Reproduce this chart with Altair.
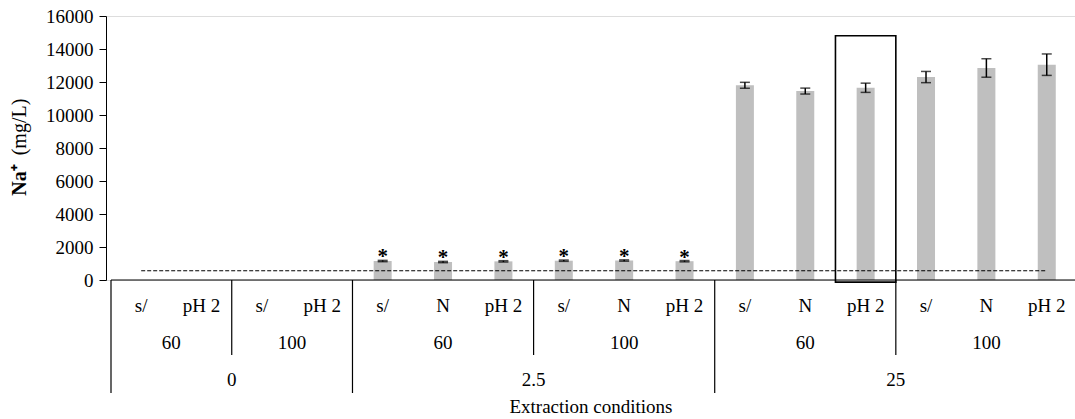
import altair as alt
import pandas as pd

# ---- data ----
conditions = ["s/", "pH 2", "s/", "pH 2", "s/", "N", "pH 2", "s/", "N", "pH 2",
              "s/", "N", "pH 2", "s/", "N", "pH 2"]
temperatures = ["60", "60", "100", "100", "60", "60", "60", "100", "100", "100",
                "60", "60", "60", "100", "100", "100"]
concentrations = ["0"] * 4 + ["2.5"] * 6 + ["25"] * 6
na_values = [0, 0, 0, 0, 1150, 1090, 1130, 1170, 1180, 1140,
             11800, 11450, 11650, 12300, 12850, 13050]
na_errors = [0, 0, 0, 0, 40, 40, 40, 40, 40, 40,
             180, 180, 280, 340, 560, 650]
significant = [False] * 4 + [True] * 6 + [False] * 6
y_ticks = [0, 2000, 4000, 6000, 8000, 10000, 12000, 14000, 16000]
limit_value = 560
highlight_index = 12
box_top = 14800

FONT = "Liberation Serif"
FS = 19

df = pd.DataFrame({
    "cond": conditions,
    "temp": temperatures,
    "conc": concentrations,
    "value": na_values,
    "err": na_errors,
    "star": significant,
})
df["idx"] = range(len(df))
df["pos"] = df["idx"] + 0.5
df["lo"] = df["value"] - df["err"]
df["hi"] = df["value"] + df["err"]
df["g2"] = df["conc"] + "|" + df["temp"]

# group spans
g2 = df.groupby("g2", sort=False).agg(start=("idx", "min"), end=("idx", "max"),
                                      label=("temp", "first")).reset_index()
g2["center"] = (g2["start"] + g2["end"] + 1) / 2
g3 = df.groupby("conc", sort=False).agg(start=("idx", "min"), end=("idx", "max")).reset_index()
g3["center"] = (g3["start"] + g3["end"] + 1) / 2

lvl3_bounds = pd.DataFrame({"x": g3["start"].tolist()})
lvl2_bounds = pd.DataFrame({"x": [s for s in g2["start"] if s not in set(g3["start"])]})

x_scale = alt.Scale(domain=[0, 15.885], nice=False, zero=False)
y_scale = alt.Scale(domain=[0, 16000], nice=False)
y_axis = alt.Axis(values=y_ticks, title=None, grid=False,
                  domainColor="black", tickColor="black", tickSize=7,
                  labelFont=FONT, labelFontSize=FS, labelColor="black",
                  labelPadding=6, format="d", labelOverlap=False)
X = lambda f: alt.X(f, type="quantitative", scale=x_scale, axis=None)
Y = lambda f: alt.Y(f, type="quantitative", scale=y_scale, axis=y_axis)

base = alt.Chart(df)
nonzero = base.transform_filter("datum.value > 0")

bars = nonzero.mark_bar(size=18, color="#BFBFBF").encode(x=X("pos"), y=Y("value"))

err_rule = nonzero.mark_rule(color="black", strokeWidth=1.5).encode(
    x=X("pos"), y=Y("lo"), y2="hi:Q")
cap_lo = nonzero.mark_tick(orient="horizontal", size=10, thickness=1.5, color="black").encode(
    x=X("pos"), y=Y("lo"))
cap_hi = nonzero.mark_tick(orient="horizontal", size=10, thickness=1.5, color="black").encode(
    x=X("pos"), y=Y("hi"))

stars = base.transform_filter("datum.star").mark_text(
    text="*", font=FONT, fontSize=21, fontWeight="bold", baseline="alphabetic",
    color="black", dy=3).encode(x=X("pos"), y=Y("hi"))

limit_df = pd.DataFrame({"x": [df["pos"].min()], "x2": [df["pos"].max()], "y": [limit_value]})
limit = alt.Chart(limit_df).mark_rule(color="black", strokeDash=[4, 2], strokeWidth=1.2).encode(
    x=X("x"), x2="x2:Q", y=Y("y"))

axis_df = pd.DataFrame({"x": [0], "x2": [len(df)], "y": [0]})
x_axis_line = alt.Chart(axis_df).mark_rule(color="black", strokeWidth=1.2).encode(
    x=X("x"), x2="x2:Q", y=Y("y"))

box_df = pd.DataFrame({"x": [highlight_index], "x2": [highlight_index + 1],
                       "y": [box_top], "y2": [-130]})
box = alt.Chart(box_df).mark_rect(fill=None, stroke="black", strokeWidth=1.6, fillOpacity=0).encode(
    x=X("x"), x2="x2:Q", y=Y("y"), y2="y2:Q")

sep3 = alt.Chart(lvl3_bounds).mark_rule(color="black", strokeWidth=1.2).encode(
    x=X("x"), y=alt.value(264), y2=alt.value(377))
sep2 = alt.Chart(lvl2_bounds).mark_rule(color="black", strokeWidth=1.2).encode(
    x=X("x"), y=alt.value(264), y2=alt.value(339))

row1 = base.mark_text(font=FONT, fontSize=FS, color="black", baseline="middle").encode(
    x=X("pos"), y=alt.value(290), text="cond:N")
row2 = alt.Chart(g2).mark_text(font=FONT, fontSize=FS, color="black", baseline="middle").encode(
    x=X("center"), y=alt.value(327), text="label:N")
row3 = alt.Chart(g3).mark_text(font=FONT, fontSize=FS, color="black", baseline="middle").encode(
    x=X("center"), y=alt.value(364), text="conc:N")

title_df = pd.DataFrame({"t": ["Extraction conditions"]})
x_title = alt.Chart(title_df).mark_text(font=FONT, fontSize=FS, color="black", baseline="middle").encode(
    x=alt.value(485), y=alt.value(391), text="t:N")

yt1 = alt.Chart(pd.DataFrame({"t": ["Na\u207a"]})).mark_text(
    font=FONT, fontSize=20, fontWeight="bold", color="black", angle=270,
    align="center", baseline="middle").encode(x=alt.value(-86), y=alt.value(164), text="t:N")
yt2 = alt.Chart(pd.DataFrame({"t": ["(mg/L)"]})).mark_text(
    font=FONT, fontSize=20, color="black", angle=270,
    align="center", baseline="middle").encode(x=alt.value(-86), y=alt.value(111), text="t:N")

chart = alt.layer(
    bars, limit, err_rule, cap_lo, cap_hi, stars, x_axis_line, box,
    sep3, sep2, row1, row2, row3, x_title, yt1, yt2
).properties(
    width=969, height=264,
    autosize=alt.AutoSizeParams(type="none"),
    padding={"left": 106, "top": 16, "right": 0, "bottom": 139},
).configure_view(stroke=None).configure(background="white")

chart.save("out.html", embed_options={"renderer": "svg", "actions": False})
